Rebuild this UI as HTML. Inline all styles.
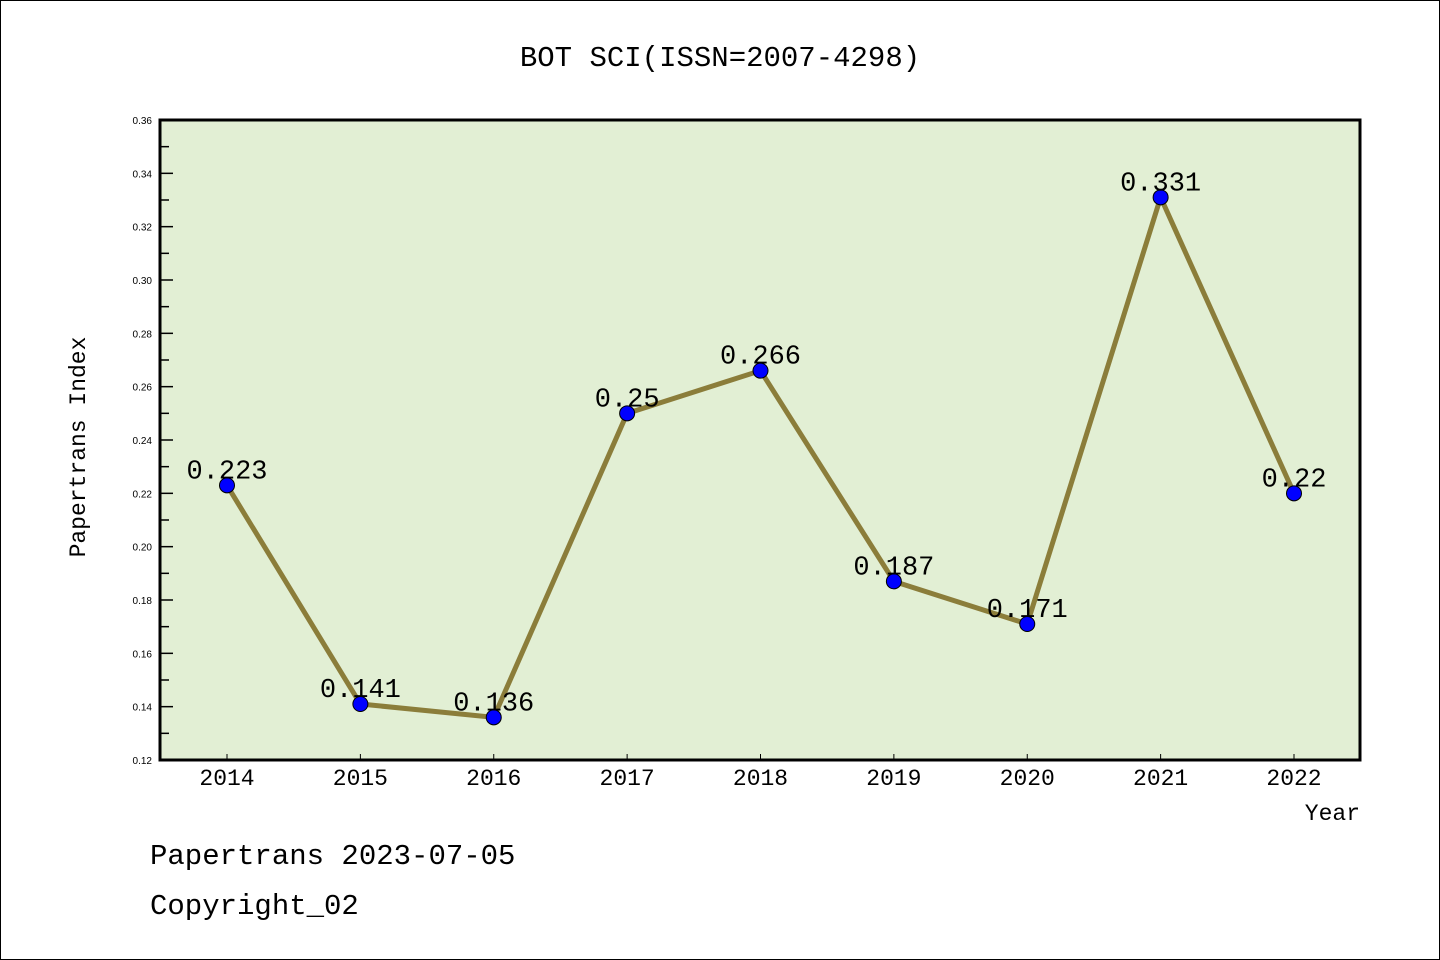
<!DOCTYPE html>
<html><head><meta charset="utf-8"><style>
body{margin:0;background:#fff}
svg{display:block}
text{font-family:"Liberation Mono","WenQuanYi Zen Hei",monospace}
text.sm{font-family:"Liberation Sans",sans-serif}
</style></head><body>
<svg id="chart" width="1440" height="960">
<rect x="0.5" y="0.5" width="1439" height="959" fill="#fff" stroke="#000"/>
<text x="720" y="66" font-size="29" text-anchor="middle">BOT SCI(ISSN=2007-4298)</text>
<rect x="160" y="120" width="1200" height="640" fill="#e2efd4"/>
<g id="ticks"></g>
<g id="series"></g>
<rect x="160" y="120" width="1200" height="640" fill="none" stroke="#000" stroke-width="3"/>
<text transform="translate(85,447) rotate(-90)" font-size="23" text-anchor="middle">Papertrans Index</text>
<text x="1360" y="820" font-size="23" text-anchor="end">Year</text>
<text x="150" y="864" font-size="29">Papertrans 2023-07-05</text>
<text x="150" y="914" font-size="29">Copyright_02</text>
</svg>
<script>
const years=["2014","2015","2016","2017","2018","2019","2020","2021","2022"];
const values=[0.223,0.141,0.136,0.25,0.266,0.187,0.171,0.331,0.22];
const valueLabels=["0.223","0.141","0.136","0.25","0.266","0.187","0.171","0.331","0.22"];
const yTicks=[0.12,0.14,0.16,0.18,0.20,0.22,0.24,0.26,0.28,0.30,0.32,0.34,0.36];
const NS="http://www.w3.org/2000/svg";
const x=i=>227+i*(1294-227)/(years.length-1);
const y=v=>760-(v-0.12)/(0.36-0.12)*640;
function mk(t,a,p){const e=document.createElementNS(NS,t);for(const k in a)e.setAttribute(k,a[k]);p.appendChild(e);return e;}
const tg=document.getElementById('ticks'),sg=document.getElementById('series');
yTicks.forEach((v,i)=>{
 const l=mk('line',{x1:160,x2:173,y1:y(v),y2:y(v),stroke:'#000','stroke-width':1.5},tg);
 
 
 const t=mk('text',{x:152,y:y(v)+4,'font-size':10,'text-anchor':'end','class':'sm'},tg);t.textContent=v.toFixed(2);
 
 
 if(i<yTicks.length-1){const m=mk('line',{x1:160,x2:169,y1:y(v+0.01),y2:y(v+0.01),stroke:'#000','stroke-width':1.5},tg);
 
 }
});
years.forEach((yr,i)=>{
 const l=mk('line',{x1:x(i),x2:x(i),y1:760,y2:754,stroke:'#000','stroke-width':1},tg);
 
 
 const t=mk('text',{x:x(i),y:785,'font-size':23,'text-anchor':'middle'},tg);t.textContent=yr;
 
 
});
const line=mk('polyline',{points:values.map((v,i)=>x(i)+','+y(v)).join(' '),fill:'none',stroke:'#8b7d3a','stroke-width':5},sg);


values.forEach((v,i)=>{
 const c=mk('circle',{cx:x(i),cy:y(v),r:7.5,fill:'#0000ff',stroke:'#000','stroke-width':1},sg);
 
 
 const t=mk('text',{x:x(i),y:y(v)-7,'font-size':27,'text-anchor':'middle'},sg);t.textContent=valueLabels[i];
 
 
});
</script>
</body></html>
